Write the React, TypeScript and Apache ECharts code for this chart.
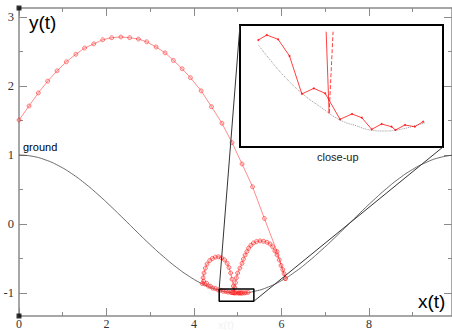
import React, { useEffect, useRef } from "react";
import * as echarts from "echarts";

// ---- tick values ----
const X_MAJOR = [0, 2, 4, 6, 8];
const X_MINOR = [1, 3, 5, 7, 9];
const Y_MAJOR = [-1, 0, 1, 2, 3];
const Y_MINOR = [-0.5, 0.5, 1.5, 2.5];
const X_MIN = 0;
const X_MAX = 9.9;
const Y_MIN = -1.3333;
const Y_MAX = 3.13;

// ---- ground profile ----
const groundX = [0, 0.3, 0.6, 0.9, 1.2, 1.5, 1.8, 2.1, 2.4, 2.7, 3.0, 3.3, 3.6, 3.9, 4.2, 4.5, 4.8, 5.1, 5.4, 5.7, 6.0, 6.3, 6.6, 6.9, 7.2, 7.5, 7.8, 8.1, 8.4, 8.7, 9.0, 9.3, 9.6, 9.9];
const groundY = [1, 0.982, 0.93, 0.846, 0.732, 0.592, 0.431, 0.255, 0.071, -0.117, -0.3, -0.471, -0.628, -0.762, -0.87, -0.947, -0.99, -0.999, -0.973, -0.913, -0.821, -0.7, -0.553, -0.387, -0.211, -0.025, 0.162, 0.342, 0.512, 0.664, 0.791, 0.89, 0.96, 0.996];

// ---- ball trajectory: first flight ----
const flightX = [0, 0.229, 0.442, 0.656, 0.87, 1.083, 1.3, 1.5, 1.71, 1.915, 2.12, 2.33, 2.53, 2.73, 2.92, 3.135, 3.34, 3.53, 3.73, 3.92, 4.165, 4.4, 4.64, 4.87, 5.1, 5.34, 5.61, 5.9, 6.09];
const flightY = [1.507, 1.71, 1.9, 2.07, 2.22, 2.35, 2.46, 2.55, 2.61, 2.67, 2.7, 2.71, 2.7, 2.68, 2.64, 2.565, 2.48, 2.37, 2.25, 2.12, 1.93, 1.7, 1.46, 1.18, 0.87, 0.54, 0.08, -0.4, -0.79];

// ---- bounces ----
const bounceX = [6.09, 6.06, 6.03, 5.99, 5.95, 5.9, 5.85, 5.8, 5.74, 5.67, 5.59, 5.51, 5.43, 5.36, 5.3, 5.25, 5.21, 5.17, 5.13, 5.1, 5.05, 5.0, 4.97, 4.95, 4.93, 4.92,
  4.9, 4.87, 4.84, 4.8, 4.76, 4.7, 4.63, 4.56, 4.49, 4.42, 4.36, 4.3, 4.26, 4.23, 4.21, 4.19,
  4.22, 4.25, 4.29, 4.33, 4.38, 4.43, 4.49, 4.55, 4.61, 4.67, 4.73, 4.78, 4.84, 4.87, 4.89, 4.91, 4.94, 4.97, 5.01, 5.03, 5.05, 5.07, 5.09, 5.11, 5.15, 5.19, 5.24];
const bounceY = [-0.79, -0.72, -0.66, -0.6, -0.52, -0.45, -0.39, -0.33, -0.29, -0.265, -0.25, -0.245, -0.255, -0.275, -0.31, -0.35, -0.4, -0.45, -0.51, -0.57, -0.64, -0.71, -0.78, -0.85, -0.92, -0.998,
  -0.9, -0.8, -0.71, -0.63, -0.57, -0.52, -0.49, -0.475, -0.48, -0.5, -0.53, -0.58, -0.64, -0.71, -0.78, -0.864,
  -0.83, -0.87, -0.86, -0.9, -0.905, -0.93, -0.935, -0.955, -0.96, -0.975, -0.978, -0.987, -0.99, -0.995, -0.994, -0.995, -0.998, -0.998, -1.0, -0.999, -1.0, -0.999, -0.9994, -0.9987, -0.998, -0.996, -0.991];

// ---- close-up box on main chart and connectors ----
const boxX = [4.577, 5.37, 5.37, 4.577, 4.577];
const boxY = [-0.942, -0.942, -1.12, -1.12, -0.942];
const link1X = [4.577, 5.053];
const link1Y = [-0.942, 2.884];
const link2X = [5.37, 9.694];
const link2Y = [-1.12, 1.116];
const cornerX = [0, 0];
const cornerY = [Y_MAX, Y_MIN];

// ---- inset (close-up) ----
const INSET_X_MIN = 4.74;
const INSET_X_MAX = 5.15;
const INSET_Y_MIN = -1.0023;
const INSET_Y_MAX = -0.985;
const insetGroundX = [4.777, 4.801, 4.827, 4.865, 4.902, 4.942, 4.976, 5.003, 5.029, 5.056, 5.087, 5.114];
const insetGroundY = [-0.98784, -0.98996, -0.99209, -0.99468, -0.99659, -0.99847, -0.99932, -0.99989, -1.00003, -0.99989, -0.99942, -0.99885];
const insetBallX = [4.777, 4.794, 4.817, 4.84, 4.865, 4.889, 4.912, 4.942, 4.966, 4.986, 5.006, 5.026, 5.046, 5.054, 5.073, 5.093, 5.11];
const insetBallY = [-0.98713, -0.98642, -0.98703, -0.9894, -0.99478, -0.99398, -0.99469, -0.99837, -0.99762, -0.99815, -0.99979, -0.99904, -0.99942, -0.99989, -0.99918, -0.99942, -0.99871];
const insetDropX = [4.914, 4.92];
const insetDropY = [-0.98595, -0.99752];
const insetRiseX = [4.92, 4.928];
const insetRiseY = [-0.9975, -0.98595];

const zip = (xs: number[], ys: number[]) => xs.map((x, i) => [x, ys[i]]);

const AXIS = "#8a8a8a";
const SANS = "Liberation Sans, Arial, sans-serif";
const SERIF = "Liberation Serif, Times New Roman, serif";

function xAx(position: string, ticks: number[], len: number, labels: boolean, line: boolean) {
  return {
    type: "value",
    gridIndex: 0,
    position,
    min: X_MIN,
    max: X_MAX,
    axisLine: { show: line, onZero: false, lineStyle: { color: AXIS, width: 1.5 } },
    axisTick: { show: true, inside: true, length: len, customValues: ticks, lineStyle: { color: AXIS, width: 1 } },
    axisLabel: labels
      ? { show: true, customValues: ticks, fontFamily: SERIF, fontSize: 12, lineHeight: 12, color: "#333", margin: 2 }
      : { show: false },
    splitLine: { show: false },
  };
}
function yAx(position: string, ticks: number[], len: number, labels: boolean, line: boolean) {
  return {
    type: "value",
    gridIndex: 0,
    position,
    min: Y_MIN,
    max: Y_MAX,
    axisLine: { show: line, onZero: false, lineStyle: { color: AXIS, width: 1.5 } },
    axisTick: { show: true, inside: true, length: len, customValues: ticks, lineStyle: { color: AXIS, width: 1 } },
    axisLabel: labels
      ? { show: true, customValues: ticks, fontFamily: SERIF, fontSize: 12.5, color: "#333", margin: 5 }
      : { show: false },
    splitLine: { show: false },
  };
}

export default function App() {
  const ref = useRef<HTMLDivElement>(null);
  useEffect(() => {
    if (!ref.current) return;
    const chart = echarts.init(ref.current, undefined, { renderer: "svg" });
    const red = "rgba(255,0,0,0.45)";
    chart.setOption({
      animation: false,
      backgroundColor: "#fff",
      grid: [
        { left: 19, top: 8, right: 0, bottom: 14, outerBoundsMode: "none", containLabel: false },
        {
          left: 240, top: 25, width: 203, height: 122, show: true,
          borderColor: "#000", borderWidth: 2, backgroundColor: "#fff",
          outerBoundsMode: "none", containLabel: false,
        },
      ],
      xAxis: [
        xAx("bottom", X_MAJOR, 8, true, true),
        xAx("bottom", X_MINOR, 4, false, false),
        xAx("top", X_MAJOR, 8, false, true),
        xAx("top", X_MINOR, 4, false, false),
        { type: "value", gridIndex: 1, min: INSET_X_MIN, max: INSET_X_MAX, show: false, splitLine: { show: false } },
      ],
      yAxis: [
        yAx("left", Y_MAJOR, 8, true, true),
        yAx("left", Y_MINOR, 4, false, false),
        yAx("right", Y_MAJOR, 8, false, true),
        yAx("right", Y_MINOR, 4, false, false),
        { type: "value", gridIndex: 1, min: INSET_Y_MIN, max: INSET_Y_MAX, show: false, splitLine: { show: false } },
      ],
      series: [
        {
          type: "line", xAxisIndex: 0, yAxisIndex: 0, data: zip(groundX, groundY),
          smooth: true, showSymbol: false, lineStyle: { color: "#444", width: 0.8 }, z: 2,
        },
        {
          type: "line", xAxisIndex: 0, yAxisIndex: 0, data: zip(flightX, flightY),
          symbol: "circle", symbolSize: 4, showAllSymbol: true,
          lineStyle: { color: red, width: 1 },
          itemStyle: { color: "rgba(255,140,140,0.3)", borderColor: "rgba(255,0,0,0.45)", borderWidth: 1 },
          z: 3,
        },
        {
          type: "line", xAxisIndex: 0, yAxisIndex: 0, data: zip(bounceX, bounceY),
          symbol: "circle", symbolSize: 4, showAllSymbol: true,
          lineStyle: { color: red, width: 1 },
          itemStyle: { color: "rgba(255,140,140,0.3)", borderColor: "rgba(255,0,0,0.5)", borderWidth: 1 },
          z: 3,
        },
        {
          type: "line", xAxisIndex: 0, yAxisIndex: 0, data: zip(boxX, boxY),
          showSymbol: false, lineStyle: { color: "#000", width: 1.5 }, z: 4,
        },
        {
          type: "line", xAxisIndex: 0, yAxisIndex: 0, data: zip(link1X, link1Y),
          showSymbol: false, lineStyle: { color: "#333", width: 1 }, z: 4, clip: false,
        },
        {
          type: "line", xAxisIndex: 0, yAxisIndex: 0, data: zip(link2X, link2Y),
          showSymbol: false, lineStyle: { color: "#333", width: 1 }, z: 4, clip: false,
        },
        {
          type: "scatter", xAxisIndex: 0, yAxisIndex: 0, data: zip(cornerX, cornerY),
          symbol: "rect", symbolSize: 5, itemStyle: { color: "#000" }, clip: false, z: 6,
        },
        {
          type: "line", xAxisIndex: 4, yAxisIndex: 4, data: zip(insetGroundX, insetGroundY),
          smooth: true, showSymbol: false, lineStyle: { color: "#999", width: 1, type: "dotted" }, z: 5,
        },
        {
          type: "line", xAxisIndex: 4, yAxisIndex: 4, data: zip(insetBallX, insetBallY),
          symbol: "circle", symbolSize: 2, showAllSymbol: true,
          lineStyle: { color: "rgba(255,0,0,0.75)", width: 1 },
          itemStyle: { color: "rgba(255,0,0,0.75)" }, z: 5,
        },
        {
          type: "line", xAxisIndex: 4, yAxisIndex: 4, data: zip(insetDropX, insetDropY),
          showSymbol: false, lineStyle: { color: "rgba(255,0,0,0.75)", width: 1 }, z: 5,
        },
        {
          type: "line", xAxisIndex: 4, yAxisIndex: 4, data: zip(insetRiseX, insetRiseY),
          showSymbol: false, lineStyle: { color: "rgba(255,0,0,0.75)", width: 1, type: [4, 2] }, z: 5,
        },
      ],
      graphic: [
        { type: "text", left: 29, top: 13, z: 10, style: { text: "y(t)", fontFamily: SANS, fontSize: 19, fill: "#000" } },
        { type: "text", left: 418, top: 292, z: 10, style: { text: "x(t)", fontFamily: SANS, fontSize: 19, fill: "#000" } },
        { type: "text", left: 23, top: 141, z: 10, style: { text: "ground", fontFamily: SANS, fontSize: 11, fill: "#000" } },
        { type: "text", left: 317, top: 151, z: 10, style: { text: "close-up", fontFamily: SANS, fontSize: 11, fill: "#222" } },
        { type: "text", left: 218, top: 319, z: 1, style: { text: "x(t)", fontFamily: SANS, fontSize: 11, fill: "#f2f2f2" } },
      ],
    });
    return () => chart.dispose();
  }, []);
  return (
    <div
      ref={ref}
      style={{ position: "fixed", left: 0, top: 0, width: 452, height: 330, background: "#fff" }}
    />
  );
}
